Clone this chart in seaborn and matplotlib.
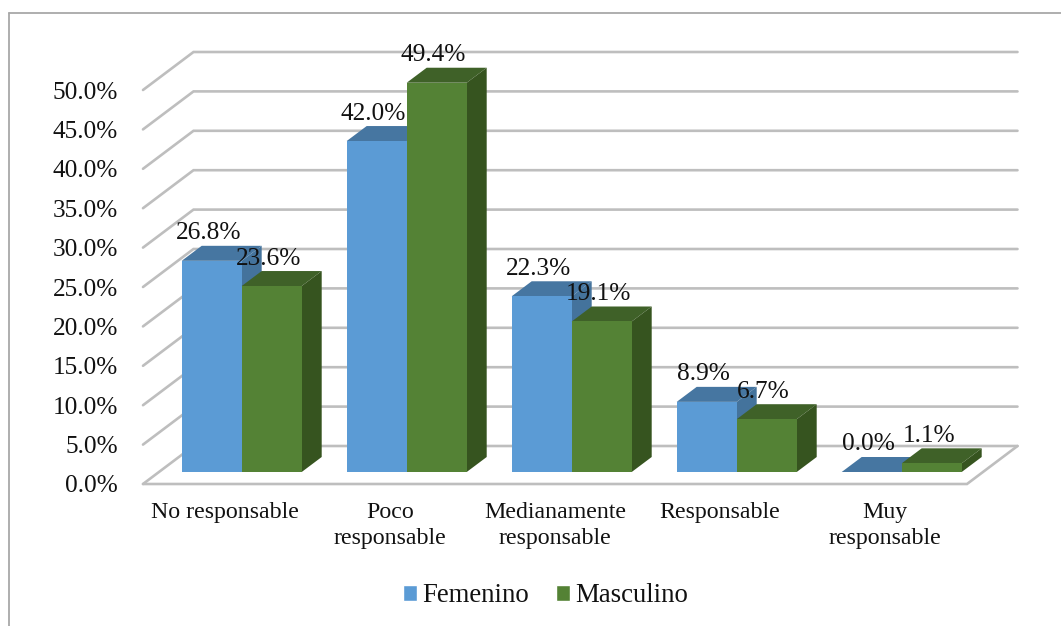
import matplotlib
matplotlib.use("Agg")
import matplotlib.pyplot as plt
from matplotlib.lines import Line2D
from matplotlib.patches import Patch, Polygon
import pandas as pd
import seaborn as sns

categories = ["No responsable", "Poco\nresponsable", "Medianamente\nresponsable",
              "Responsable", "Muy\nresponsable"]
femenino = [26.8, 42.0, 22.3, 8.9, 0.0]
masculino = [23.6, 49.4, 19.1, 6.7, 1.1]
y_ticks = [0, 5, 10, 15, 20, 25, 30, 35, 40, 45, 50]

W, H = 1061, 626
PX_PER_PCT = 7.88
Y_MAX = 55

sns.set_theme(style="white")
plt.rcParams["font.family"] = ["Liberation Serif", "DejaVu Serif"]

fig = plt.figure(figsize=(W / 100, H / 100), dpi=100, facecolor="white")


def pixel_axes(left, bottom_y, width):
    """Axes placed by pixel position, sharing one vertical percent scale."""
    height = Y_MAX * PX_PER_PCT
    return fig.add_axes([left / W, 1 - bottom_y / H, width / W, height / H])


# Chart frame: only the top and left rules fall inside the canvas
frame_color = "#A8A8A8"
fig.add_artist(Line2D([9 / W, 9 / W], [0, 1 - 13 / H], color=frame_color, lw=1.3))
fig.add_artist(Line2D([9 / W, 1], [1 - 13 / H, 1 - 13 / H], color=frame_color, lw=1.3))

# Front plane of the 3-D box: walls, floor and both axes' labels
ax_box = pixel_axes(143, 484, 824)
ax_box.set_xlim(-0.5, 4.5)
ax_box.set_ylim(0, Y_MAX)
ax_box.set_xticks(range(len(categories)))
ax_box.set_xticklabels(categories, fontsize=17.2, color="#111111", linespacing=1.33)
ax_box.set_yticks(y_ticks)
ax_box.set_yticklabels([f"{v:.1f}%" for v in y_ticks], fontsize=18.2, color="#111111")
ax_box.tick_params(axis="x", length=0, pad=13)
ax_box.tick_params(axis="y", length=0, pad=18)
sns.despine(ax=ax_box, left=True, bottom=True)

wall_dx = 50.5 / (824 / 5)
wall_dy = 38 / PX_PER_PCT
grid_color = "#BEBEBE"
for v in y_ticks:
    ax_box.plot([-0.5, -0.5 + wall_dx, 4.5 + wall_dx],
                [v, v + wall_dy, v + wall_dy],
                color=grid_color, lw=1.9, solid_joinstyle="miter", clip_on=False)
ax_box.plot([-0.5, 4.5, 4.5 + wall_dx], [0, 0, wall_dy],
            color=grid_color, lw=1.9, solid_joinstyle="miter", clip_on=False)

# Bars stand a little way back on the floor
ax = pixel_axes(159.2, 472, 825)
ax.patch.set_alpha(0)

df = pd.DataFrame({
    "Categoria": categories * 2,
    "Porcentaje": femenino + masculino,
    "Sexo": ["Femenino"] * len(femenino) + ["Masculino"] * len(masculino),
})
blue, green = "#5B9BD5", "#548235"
sns.barplot(data=df, x="Categoria", y="Porcentaje", hue="Sexo",
            palette={"Femenino": blue, "Masculino": green},
            width=120 / 165, gap=0, saturation=1, legend=False, ax=ax)
ax.set_xlim(-0.5, 4.5)
ax.set_ylim(0, Y_MAX)
ax.set_xlabel("")
ax.set_ylabel("")
ax.set_xticks([])
ax.set_yticks([])
sns.despine(ax=ax, left=True, bottom=True)

# Extruded top and side faces, built from each bar's geometry
depth_x = 20 / 165
depth_y = 15 / PX_PER_PCT
shades = [("#4676A1", "#44739C", 2), ("#3F6128", "#36541F", 4)]
n_groups = len(categories)
for i, bar in enumerate(ax.patches[:2 * n_groups]):
    top_color, side_color, z = shades[i // n_groups]
    bar.set_zorder(z + 1)
    bar.set_edgecolor("none")
    x0, x1 = bar.get_x(), bar.get_x() + bar.get_width()
    h = bar.get_height()
    ax.add_patch(Polygon([(x0, h), (x1, h), (x1 + depth_x, h + depth_y), (x0 + depth_x, h + depth_y)],
                         closed=True, facecolor=top_color, edgecolor="none", zorder=z, clip_on=False))
    ax.add_patch(Polygon([(x1, 0), (x1 + depth_x, depth_y), (x1 + depth_x, h + depth_y), (x1, h)],
                         closed=True, facecolor=side_color, edgecolor="none", zorder=z, clip_on=False))
    ax.annotate(f"{h:.1f}%", xy=((x0 + x1) / 2, h), xytext=(-2.2, 19.8),
                textcoords="offset points", ha="center", va="center",
                fontsize=18.3, color="#111111", zorder=10, annotation_clip=False)

fig.legend(handles=[Patch(facecolor=blue, label="Femenino"),
                    Patch(facecolor=green, label="Masculino")],
           loc="center", bbox_to_anchor=(545.5 / W, 1 - 596 / H), ncol=2, frameon=False,
           fontsize=19.3, handlelength=0.53, handleheight=0.53,
           handletextpad=0.2, columnspacing=1.0, labelcolor="#111111")

fig.savefig("out.png", dpi=100, facecolor="white")
